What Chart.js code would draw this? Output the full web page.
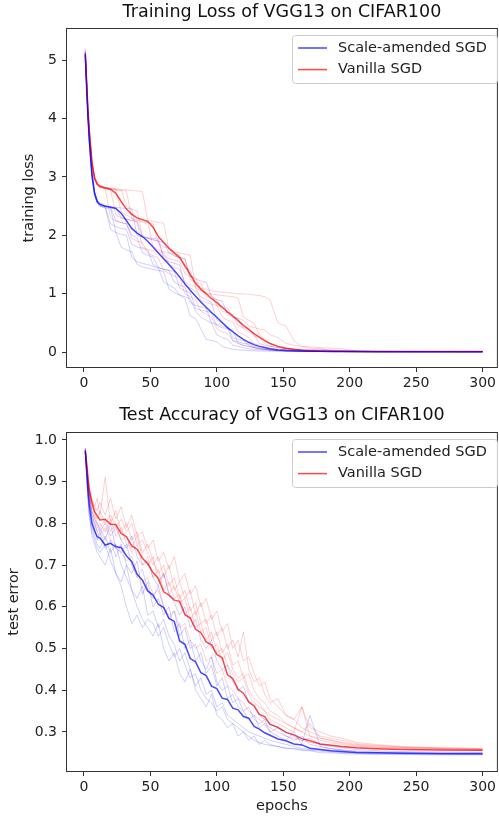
<!DOCTYPE html>
<html>
<head>
<meta charset="utf-8">
<script src="https://cdn.jsdelivr.net/npm/chart.js@4.4.0/dist/chart.umd.min.js"></script>
<style>
    html, body { margin: 0; padding: 0; background: #fff; }
    #wrap { position: relative; width: 499px; height: 816px; }
    #lossChart { position: absolute; left: 0; top: 0; }
    #errChart { position: absolute; left: 0; top: 400px; }
</style>
</head>
<body>
<div id="wrap">
    <canvas id="lossChart" width="499" height="400"></canvas>
    <canvas id="errChart" width="499" height="416"></canvas>
</div>
<script>
// epochs at which every series below is sampled
const EPOCHS = [1, 2, 3, 4, 6, 8, 10,
    12, 16, 20, 24, 28, 32, 36, 40, 44, 48,
    52, 56, 60, 64, 68, 72, 76, 80, 84, 88,
    92, 96, 100, 104, 108, 112, 116, 120, 124, 128,
    132, 136, 140, 146, 152, 158, 164, 170, 178, 186,
    194, 205, 220, 240, 270, 300];

const X_TICKS = [0, 50, 100, 150, 200, 250, 300];
const LOSS_TICKS = [0, 1, 2, 3, 4, 5];
const ERR_TICKS = [0.3, 0.4, 0.5, 0.6, 0.7, 0.8, 0.9, 1.0];
const LEGEND_LABELS = ['Scale-amended SGD', 'Vanilla SGD'];

// ---- training loss: mean curves
const lossBlueMean = [5.10, 4.55, 4.05, 3.65, 3.05, 2.72, 2.58,
    2.53, 2.50, 2.48, 2.46, 2.38, 2.25, 2.12, 2.04, 1.98, 1.90,
    1.80, 1.70, 1.60, 1.50, 1.40, 1.29, 1.17, 1.06, 0.96, 0.86,
    0.77, 0.68, 0.60, 0.51, 0.42, 0.35, 0.28, 0.22, 0.17, 0.13,
    0.10, 0.08, 0.06, 0.04, 0.03, 0.025, 0.02, 0.018, 0.015, 0.013,
    0.012, 0.011, 0.010, 0.009, 0.008, 0.008];
const lossRedMean = [5.12, 4.65, 4.15, 3.80, 3.25, 2.98, 2.88,
    2.84, 2.81, 2.79, 2.72, 2.58, 2.45, 2.36, 2.30, 2.27, 2.24,
    2.14, 1.98, 1.88, 1.78, 1.70, 1.62, 1.48, 1.33, 1.18, 1.08,
    1.00, 0.92, 0.85, 0.77, 0.69, 0.62, 0.54, 0.46, 0.39, 0.32,
    0.26, 0.20, 0.15, 0.10, 0.07, 0.05, 0.035, 0.028, 0.022, 0.018,
    0.016, 0.014, 0.013, 0.012, 0.011, 0.011];

// ---- training loss: single runs
const lossBlueRun1 = [5.15, 4.50, 4.00, 3.60, 3.00, 2.70, 2.56,
    2.50, 2.47, 2.46, 2.05, 2.02, 2.00, 1.62, 1.55, 1.52, 1.50,
    1.47, 1.44, 1.20, 1.15, 1.10, 0.98, 0.92, 0.62, 0.58, 0.40,
    0.22, 0.20, 0.18, 0.10, 0.07, 0.05, 0.04, 0.035, 0.03, 0.025,
    0.02, 0.02, 0.018, 0.015, 0.012, 0.011, 0.01, 0.01, 0.009, 0.009,
    0.008, 0.008, 0.007, 0.007, 0.006, 0.006];
const lossBlueRun2 = [5.05, 4.55, 4.10, 3.70, 3.10, 2.75, 2.60,
    2.54, 2.50, 2.49, 2.48, 2.47, 2.46, 2.45, 2.00, 1.97, 1.96,
    1.95, 1.94, 1.60, 1.55, 1.52, 1.50, 1.15, 1.10, 1.05, 0.95,
    0.90, 0.85, 0.55, 0.50, 0.45, 0.25, 0.22, 0.20, 0.12, 0.08,
    0.06, 0.05, 0.04, 0.03, 0.025, 0.02, 0.018, 0.015, 0.013, 0.012,
    0.011, 0.01, 0.009, 0.008, 0.008, 0.007];
const lossBlueRun3 = [5.20, 4.60, 4.05, 3.62, 3.02, 2.70, 2.57,
    2.52, 2.49, 2.20, 2.15, 2.12, 2.10, 1.85, 1.80, 1.78, 1.75,
    1.50, 1.45, 1.42, 1.40, 1.38, 1.10, 1.05, 1.02, 0.75, 0.72,
    0.70, 0.68, 0.45, 0.42, 0.40, 0.38, 0.15, 0.12, 0.10, 0.08,
    0.06, 0.05, 0.04, 0.03, 0.022, 0.018, 0.015, 0.013, 0.012, 0.011,
    0.01, 0.009, 0.009, 0.008, 0.007, 0.007];
const lossBlueRun4 = [5.10, 4.52, 4.02, 3.68, 3.08, 2.74, 2.60,
    2.55, 2.51, 2.49, 2.47, 2.30, 2.28, 2.26, 2.24, 1.98, 1.95,
    1.93, 1.90, 1.88, 1.70, 1.65, 1.62, 1.60, 1.30, 1.25, 1.22,
    1.20, 0.95, 0.90, 0.88, 0.65, 0.60, 0.58, 0.40, 0.35, 0.30,
    0.15, 0.12, 0.10, 0.08, 0.06, 0.05, 0.04, 0.035, 0.06, 0.03,
    0.02, 0.015, 0.012, 0.01, 0.009, 0.008];
const lossBlueRun5 = [5.00, 4.45, 3.98, 3.58, 2.98, 2.68, 2.55,
    2.50, 2.48, 2.10, 2.05, 1.80, 1.75, 1.72, 1.50, 1.46, 1.44,
    1.42, 1.40, 1.38, 1.08, 1.02, 0.98, 0.95, 0.92, 0.70, 0.60,
    0.55, 0.50, 0.30, 0.25, 0.22, 0.12, 0.10, 0.08, 0.06, 0.05,
    0.04, 0.035, 0.03, 0.025, 0.02, 0.018, 0.015, 0.013, 0.012, 0.011,
    0.01, 0.009, 0.008, 0.008, 0.007, 0.006];
const lossBlueRun6 = [5.08, 4.58, 4.08, 3.66, 3.06, 2.73, 2.58,
    2.53, 2.50, 2.48, 2.25, 2.22, 2.20, 2.00, 1.96, 1.70, 1.66,
    1.63, 1.45, 1.42, 1.40, 1.20, 1.15, 1.12, 0.85, 0.80, 0.78,
    0.75, 0.50, 0.48, 0.45, 0.42, 0.20, 0.18, 0.15, 0.14, 0.10,
    0.08, 0.06, 0.05, 0.04, 0.05, 0.03, 0.02, 0.018, 0.015, 0.013,
    0.012, 0.011, 0.01, 0.009, 0.008, 0.007];

const lossRedRun1 = [5.15, 4.70, 4.20, 3.85, 3.30, 3.00, 2.90,
    2.85, 2.82, 2.81, 2.80, 2.79, 2.78, 2.77, 2.76, 2.75, 2.26,
    2.24, 2.22, 2.21, 1.75, 1.72, 1.70, 1.68, 1.66, 1.10, 1.05,
    1.02, 1.00, 0.98, 0.97, 0.96, 0.95, 0.93, 0.60, 0.55, 0.50,
    0.30, 0.22, 0.15, 0.10, 0.07, 0.05, 0.04, 0.03, 0.025, 0.02,
    0.018, 0.016, 0.014, 0.013, 0.012, 0.011];
const lossRedRun2 = [5.10, 4.62, 4.12, 3.78, 3.22, 2.96, 2.86,
    2.82, 2.80, 2.30, 2.25, 2.22, 2.20, 1.95, 1.90, 1.88, 1.70,
    1.65, 1.62, 1.40, 1.35, 1.30, 1.28, 1.00, 0.95, 0.90, 0.70,
    0.65, 0.60, 0.40, 0.35, 0.32, 0.20, 0.15, 0.12, 0.10, 0.08,
    0.06, 0.05, 0.04, 0.03, 0.025, 0.02, 0.018, 0.016, 0.015, 0.014,
    0.013, 0.012, 0.012, 0.011, 0.011, 0.01];
const lossRedRun3 = [5.12, 4.66, 4.16, 3.80, 3.26, 2.98, 2.88,
    2.84, 2.81, 2.80, 2.79, 2.40, 2.35, 2.30, 2.27, 2.25, 2.23,
    1.80, 1.75, 1.72, 1.70, 1.68, 1.66, 1.45, 1.40, 1.15, 1.10,
    1.08, 1.05, 1.04, 1.03, 1.02, 1.01, 1.00, 1.00, 0.99, 0.98,
    0.97, 0.95, 0.90, 0.50, 0.45, 0.20, 0.10, 0.07, 0.05, 0.04,
    0.03, 0.02, 0.016, 0.014, 0.012, 0.011];
const lossRedRun4 = [5.18, 4.68, 4.18, 3.82, 3.28, 3.00, 2.89,
    2.85, 2.82, 2.80, 2.78, 2.77, 2.50, 2.45, 2.42, 2.00, 1.95,
    1.92, 1.90, 1.65, 1.60, 1.58, 1.55, 1.35, 1.30, 1.28, 1.05,
    1.00, 0.98, 0.80, 0.78, 0.75, 0.60, 0.58, 0.55, 0.45, 0.42,
    0.40, 0.38, 0.30, 0.25, 0.15, 0.12, 0.10, 0.09, 0.08, 0.07,
    0.06, 0.02, 0.015, 0.013, 0.012, 0.011];
const lossRedRun5 = [5.08, 4.60, 4.10, 3.75, 3.20, 2.95, 2.85,
    2.82, 2.80, 2.78, 2.35, 2.30, 2.27, 2.25, 2.23, 1.80, 1.76,
    1.74, 1.72, 1.70, 1.50, 1.45, 1.42, 1.20, 1.15, 1.12, 0.88,
    0.85, 0.82, 0.80, 0.60, 0.55, 0.52, 0.35, 0.30, 0.25, 0.15,
    0.12, 0.08, 0.06, 0.05, 0.04, 0.03, 0.025, 0.02, 0.018, 0.016,
    0.015, 0.014, 0.013, 0.012, 0.011, 0.011];
const lossRedRun6 = [5.14, 4.64, 4.14, 3.79, 3.24, 2.97, 2.87,
    2.83, 2.81, 2.79, 2.78, 2.77, 2.76, 2.28, 2.25, 2.23, 2.22,
    2.20, 1.85, 1.80, 1.78, 1.65, 1.62, 1.60, 1.25, 1.20, 1.18,
    0.95, 0.92, 0.90, 0.70, 0.68, 0.65, 0.45, 0.42, 0.40, 0.28,
    0.25, 0.15, 0.10, 0.08, 0.06, 0.05, 0.04, 0.03, 0.025, 0.02,
    0.018, 0.016, 0.014, 0.013, 0.012, 0.011];

// ---- test error: mean curves
const errBlueMean = [0.975, 0.93, 0.88, 0.845, 0.80, 0.782, 0.768,
    0.765, 0.748, 0.752, 0.744, 0.742, 0.722, 0.708, 0.678, 0.664, 0.638,
    0.628, 0.606, 0.598, 0.572, 0.565, 0.518, 0.51, 0.476, 0.468, 0.442,
    0.435, 0.41, 0.404, 0.381, 0.378, 0.357, 0.353, 0.337, 0.333, 0.313,
    0.307, 0.298, 0.292, 0.283, 0.279, 0.271, 0.269, 0.261, 0.258, 0.255,
    0.253, 0.251, 0.25, 0.249, 0.248, 0.248];
const errRedMean = [0.975, 0.945, 0.91, 0.88, 0.85, 0.828, 0.818,
    0.808, 0.81, 0.798, 0.797, 0.776, 0.768, 0.746, 0.738, 0.716, 0.703,
    0.682, 0.668, 0.636, 0.628, 0.616, 0.613, 0.581, 0.573, 0.546, 0.538,
    0.516, 0.509, 0.486, 0.478, 0.437, 0.428, 0.402, 0.393, 0.372, 0.363,
    0.342, 0.337, 0.318, 0.311, 0.299, 0.293, 0.284, 0.279, 0.271, 0.268,
    0.265, 0.262, 0.26, 0.258, 0.257, 0.256];

// ---- test error: single runs
const errBlueRun1 = [0.97, 0.92, 0.86, 0.82, 0.77, 0.75, 0.73,
    0.72, 0.70, 0.74, 0.68, 0.66, 0.70, 0.64, 0.60, 0.57, 0.55,
    0.53, 0.56, 0.50, 0.47, 0.49, 0.44, 0.42, 0.45, 0.40, 0.38,
    0.36, 0.39, 0.34, 0.33, 0.31, 0.32, 0.29, 0.30, 0.28, 0.29,
    0.27, 0.28, 0.27, 0.265, 0.26, 0.26, 0.255, 0.255, 0.25, 0.25,
    0.248, 0.247, 0.246, 0.246, 0.245, 0.245];
const errBlueRun2 = [0.98, 0.94, 0.90, 0.87, 0.83, 0.81, 0.80,
    0.78, 0.80, 0.77, 0.79, 0.76, 0.74, 0.77, 0.72, 0.70, 0.71,
    0.67, 0.65, 0.68, 0.63, 0.61, 0.58, 0.60, 0.55, 0.57, 0.52,
    0.50, 0.52, 0.47, 0.45, 0.46, 0.42, 0.40, 0.41, 0.37, 0.36,
    0.34, 0.33, 0.32, 0.31, 0.30, 0.29, 0.28, 0.285, 0.27, 0.265,
    0.262, 0.258, 0.255, 0.253, 0.252, 0.251];
const errBlueRun3 = [0.97, 0.93, 0.89, 0.85, 0.81, 0.79, 0.76,
    0.78, 0.74, 0.76, 0.72, 0.75, 0.70, 0.68, 0.71, 0.63, 0.66,
    0.60, 0.62, 0.58, 0.60, 0.54, 0.56, 0.50, 0.52, 0.47, 0.49,
    0.44, 0.46, 0.41, 0.43, 0.38, 0.39, 0.36, 0.35, 0.33, 0.34,
    0.31, 0.32, 0.30, 0.29, 0.28, 0.30, 0.27, 0.34, 0.265, 0.26,
    0.256, 0.253, 0.251, 0.25, 0.249, 0.249];
const errBlueRun4 = [0.96, 0.91, 0.86, 0.82, 0.78, 0.76, 0.74,
    0.73, 0.75, 0.71, 0.68, 0.65, 0.60, 0.56, 0.58, 0.55, 0.57,
    0.56, 0.53, 0.55, 0.51, 0.48, 0.50, 0.46, 0.43, 0.44, 0.40,
    0.38, 0.37, 0.35, 0.36, 0.33, 0.32, 0.31, 0.30, 0.29, 0.28,
    0.275, 0.27, 0.268, 0.265, 0.262, 0.26, 0.258, 0.256, 0.254, 0.252,
    0.25, 0.249, 0.248, 0.247, 0.247, 0.246];
const errBlueRun5 = [0.98, 0.93, 0.89, 0.86, 0.82, 0.80, 0.78,
    0.79, 0.76, 0.80, 0.74, 0.73, 0.75, 0.70, 0.67, 0.69, 0.64,
    0.62, 0.65, 0.60, 0.57, 0.59, 0.53, 0.55, 0.50, 0.51, 0.47,
    0.45, 0.48, 0.42, 0.40, 0.41, 0.37, 0.38, 0.35, 0.36, 0.33,
    0.32, 0.33, 0.30, 0.31, 0.29, 0.28, 0.29, 0.27, 0.265, 0.26,
    0.257, 0.254, 0.252, 0.251, 0.25, 0.25];
const errBlueRun6 = [0.97, 0.92, 0.87, 0.83, 0.79, 0.77, 0.75,
    0.74, 0.77, 0.73, 0.75, 0.70, 0.67, 0.64, 0.62, 0.65, 0.58,
    0.59, 0.55, 0.57, 0.53, 0.51, 0.47, 0.49, 0.45, 0.41, 0.43,
    0.39, 0.40, 0.36, 0.37, 0.34, 0.33, 0.32, 0.31, 0.30, 0.295,
    0.29, 0.285, 0.28, 0.275, 0.27, 0.265, 0.26, 0.258, 0.256, 0.254,
    0.252, 0.25, 0.249, 0.248, 0.248, 0.247];

const errRedRun1 = [0.98, 0.95, 0.92, 0.89, 0.86, 0.84, 0.83,
    0.85, 0.82, 0.86, 0.81, 0.84, 0.79, 0.82, 0.77, 0.78, 0.74,
    0.76, 0.71, 0.73, 0.69, 0.72, 0.66, 0.68, 0.63, 0.65, 0.60,
    0.62, 0.57, 0.59, 0.54, 0.56, 0.50, 0.52, 0.47, 0.48, 0.44,
    0.41, 0.42, 0.38, 0.36, 0.34, 0.33, 0.31, 0.30, 0.29, 0.285,
    0.28, 0.272, 0.268, 0.264, 0.262, 0.26];
const errRedRun2 = [0.97, 0.94, 0.90, 0.87, 0.84, 0.82, 0.80,
    0.79, 0.81, 0.78, 0.80, 0.76, 0.77, 0.73, 0.75, 0.70, 0.72,
    0.67, 0.69, 0.64, 0.66, 0.62, 0.63, 0.58, 0.60, 0.55, 0.56,
    0.52, 0.54, 0.49, 0.50, 0.46, 0.44, 0.42, 0.43, 0.39, 0.37,
    0.36, 0.35, 0.33, 0.32, 0.31, 0.30, 0.36, 0.29, 0.28, 0.275,
    0.27, 0.266, 0.263, 0.261, 0.259, 0.258];
const errRedRun3 = [0.97, 0.93, 0.89, 0.86, 0.82, 0.80, 0.78,
    0.77, 0.79, 0.76, 0.75, 0.73, 0.71, 0.72, 0.68, 0.66, 0.67,
    0.63, 0.64, 0.60, 0.58, 0.59, 0.55, 0.56, 0.52, 0.50, 0.51,
    0.47, 0.48, 0.44, 0.45, 0.41, 0.40, 0.38, 0.37, 0.35, 0.34,
    0.33, 0.32, 0.31, 0.30, 0.29, 0.285, 0.28, 0.275, 0.27, 0.268,
    0.265, 0.262, 0.26, 0.258, 0.257, 0.256];
const errRedRun4 = [0.98, 0.94, 0.91, 0.88, 0.85, 0.83, 0.81,
    0.83, 0.80, 0.82, 0.79, 0.81, 0.78, 0.80, 0.75, 0.76, 0.73,
    0.70, 0.72, 0.67, 0.70, 0.64, 0.66, 0.62, 0.64, 0.58, 0.61,
    0.56, 0.58, 0.53, 0.55, 0.50, 0.52, 0.48, 0.54, 0.45, 0.42,
    0.43, 0.39, 0.37, 0.38, 0.34, 0.33, 0.36, 0.31, 0.30, 0.29,
    0.285, 0.275, 0.27, 0.265, 0.262, 0.26];
const errRedRun5 = [0.97, 0.94, 0.90, 0.88, 0.85, 0.84, 0.86,
    0.82, 0.91, 0.80, 0.83, 0.78, 0.80, 0.76, 0.78, 0.73, 0.75,
    0.71, 0.68, 0.70, 0.65, 0.67, 0.62, 0.64, 0.59, 0.61, 0.56,
    0.57, 0.52, 0.54, 0.49, 0.51, 0.46, 0.47, 0.43, 0.44, 0.40,
    0.38, 0.37, 0.35, 0.34, 0.32, 0.31, 0.30, 0.32, 0.285, 0.28,
    0.275, 0.27, 0.266, 0.263, 0.26, 0.258];
const errRedRun6 = [0.97, 0.93, 0.90, 0.87, 0.83, 0.81, 0.79,
    0.80, 0.78, 0.81, 0.77, 0.79, 0.75, 0.74, 0.77, 0.72, 0.70,
    0.72, 0.66, 0.68, 0.63, 0.65, 0.61, 0.62, 0.57, 0.59, 0.54,
    0.55, 0.50, 0.51, 0.47, 0.49, 0.45, 0.43, 0.44, 0.40, 0.38,
    0.37, 0.35, 0.34, 0.33, 0.32, 0.31, 0.30, 0.29, 0.285, 0.28,
    0.273, 0.268, 0.264, 0.262, 0.26, 0.258];

const FONT = "'DejaVu Sans', 'Liberation Sans', sans-serif";
const BLUE_FAINT = 'rgba(0,0,255,0.19)';
const RED_FAINT = 'rgba(255,0,0,0.19)';
const BLUE_MEAN = 'rgba(0,0,255,0.72)';
const RED_MEAN = 'rgba(255,0,0,0.72)';

Chart.defaults.font.family = FONT;
Chart.defaults.color = '#222';

function pts(vals) {
    return vals.map(function (v, i) { return { x: EPOCHS[i], y: v }; });
}

function line(vals, color, width) {
    return { data: pts(vals), borderColor: color, borderWidth: width, pointRadius: 0, tension: 0, fill: false };
}

function buildDatasets(blueRuns, redRuns, blueMean, redMean) {
    const sets = [];
    blueRuns.forEach(function (r) { sets.push(line(r, BLUE_FAINT, 1)); });
    redRuns.forEach(function (r) { sets.push(line(r, RED_FAINT, 1)); });
    sets.push(line(blueMean, BLUE_MEAN, 1.5));
    sets.push(line(redMean, RED_MEAN, 1.5));
    return sets;
}

// axes box like matplotlib spines
const framePlugin = {
    id: 'frame',
    afterDatasetsDraw: function (chart) {
        const a = chart.chartArea, ctx = chart.ctx;
        ctx.save();
        ctx.strokeStyle = '#333';
        ctx.lineWidth = 1;
        ctx.strokeRect(a.left + 0.5, a.top + 0.5, a.right - a.left - 1, a.bottom - a.top - 1);
        ctx.restore();
    }
};

// legend drawn inside the axes, upper right
const boxLegendPlugin = {
    id: 'boxLegend',
    afterDraw: function (chart) {
        const a = chart.chartArea, ctx = chart.ctx;
        const x0 = 292, y0 = a.top + 7, w = 205, h = 48;
        const colors = [BLUE_MEAN, RED_MEAN];
        ctx.save();
        ctx.beginPath();
        if (ctx.roundRect) ctx.roundRect(x0 + 0.5, y0 + 0.5, w, h, 3);
        else ctx.rect(x0 + 0.5, y0 + 0.5, w, h);
        ctx.fillStyle = 'rgba(255,255,255,0.8)';
        ctx.fill();
        ctx.strokeStyle = '#cccccc';
        ctx.lineWidth = 1;
        ctx.stroke();
        ctx.font = '14.5px ' + FONT;
        ctx.textBaseline = 'middle';
        LEGEND_LABELS.forEach(function (label, i) {
            const y = y0 + 13 + i * 21.6;
            ctx.strokeStyle = colors[i];
            ctx.lineWidth = 1.5;
            ctx.beginPath();
            ctx.moveTo(x0 + 6, y);
            ctx.lineTo(x0 + 35, y);
            ctx.stroke();
            ctx.fillStyle = '#222';
            ctx.fillText(label, x0 + 46, y);
        });
        ctx.restore();
    }
};

function makeChart(canvas, cfg) {
    return new Chart(canvas, {
        type: 'line',
        data: { datasets: cfg.datasets },
        plugins: [framePlugin, boxLegendPlugin],
        options: {
            responsive: false,
            animation: false,
            devicePixelRatio: 1,
            layout: { padding: { left: 0, right: 1, top: 0, bottom: 0 } },
            plugins: {
                legend: { display: false },
                tooltip: { enabled: false },
                title: {
                    display: true,
                    fullSize: false,
                    text: cfg.title,
                    color: '#111',
                    font: { size: 17.5, weight: 'normal' },
                    padding: cfg.titlePad
                }
            },
            scales: {
                x: {
                    type: 'linear',
                    min: -13.5,
                    max: 311.5,
                    afterBuildTicks: function (s) { s.ticks = X_TICKS.map(function (v) { return { value: v }; }); },
                    afterFit: function (s) { s.height = cfg.xHeight; },
                    grid: { drawOnChartArea: false, drawTicks: true, tickLength: 4, tickColor: '#333' },
                    border: { display: false },
                    ticks: { font: { size: 14 }, padding: 3, maxRotation: 0, autoSkip: false,
                        callback: function (v) { return String(v); } },
                    title: cfg.xTitle ? { display: true, text: cfg.xTitle, font: { size: 14.5 }, padding: { top: 0, bottom: 1 } } : { display: false }
                },
                y: {
                    type: 'linear',
                    min: cfg.yMin,
                    max: cfg.yMax,
                    afterBuildTicks: function (s) { s.ticks = cfg.yTicks.map(function (v) { return { value: v }; }); },
                    afterFit: function (s) { s.width = 66; },
                    grid: { drawOnChartArea: false, drawTicks: true, tickLength: 4, tickColor: '#333' },
                    border: { display: false },
                    ticks: { font: { size: 14 }, padding: 5, autoSkip: false, callback: cfg.yFormat },
                    title: { display: true, text: cfg.yTitle, font: { size: 14.5 }, padding: { top: cfg.yTitlePad, bottom: 0 } }
                }
            }
        }
    });
}

makeChart(document.getElementById('lossChart'), {
    title: 'Training Loss of VGG13 on CIFAR100',
    titlePad: { top: 2, bottom: 5 },
    datasets: buildDatasets(
        [lossBlueRun1, lossBlueRun2, lossBlueRun3, lossBlueRun4, lossBlueRun5, lossBlueRun6],
        [lossRedRun1, lossRedRun2, lossRedRun3, lossRedRun4, lossRedRun5, lossRedRun6],
        lossBlueMean, lossRedMean),
    xHeight: 32,
    yMin: -0.27,
    yMax: 5.55,
    yTicks: LOSS_TICKS,
    yFormat: function (v) { return String(v); },
    yTitle: 'training loss',
    yTitlePad: 21
});

makeChart(document.getElementById('errChart'), {
    title: 'Test Accuracy of VGG13 on CIFAR100',
    titlePad: { top: 5, bottom: 6 },
    datasets: buildDatasets(
        [errBlueRun1, errBlueRun2, errBlueRun3, errBlueRun4, errBlueRun5, errBlueRun6],
        [errRedRun1, errRedRun2, errRedRun3, errRedRun4, errRedRun5, errRedRun6],
        errBlueMean, errRedMean),
    xHeight: 44,
    xTitle: 'epochs',
    yMin: 0.204,
    yMax: 1.019,
    yTicks: ERR_TICKS,
    yFormat: function (v) { return v.toFixed(1); },
    yTitle: 'test error',
    yTitlePad: 6
});
</script>
</body>
</html>
